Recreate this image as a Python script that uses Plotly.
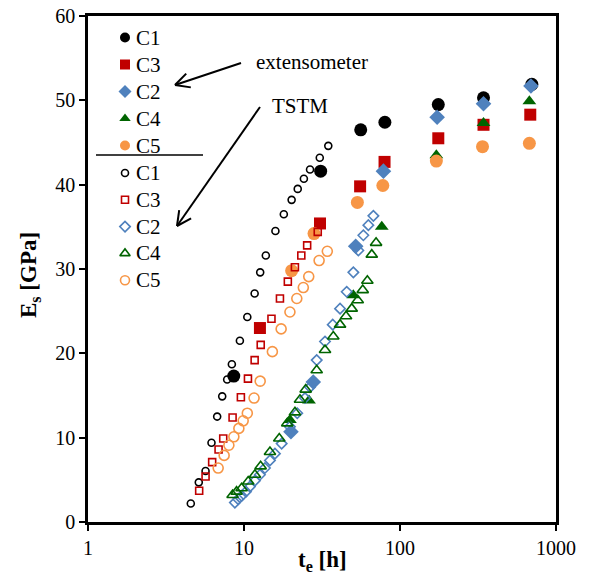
import math
import plotly.graph_objects as go

# ---------------- data ----------------
# Extensometer (filled markers)
ext_C1_t = [8.6, 31, 56, 80, 176, 343, 700]
ext_C1_E = [17.3, 41.6, 46.5, 47.4, 49.5, 50.3, 51.9]
ext_C3_t = [12.65, 30.7, 55.5, 79.6, 176, 343, 684]
ext_C3_E = [23.0, 35.4, 39.8, 42.7, 45.5, 47.1, 48.3]
ext_C2_t = [20.0, 27.8, 52.0, 78.3, 173, 343, 691]
ext_C2_E = [10.7, 16.6, 32.7, 41.6, 48.0, 49.6, 51.7]
ext_C4_t = [19.7, 26.1, 50.2, 76.4, 171, 343, 675]
ext_C4_E = [12.1, 14.4, 26.9, 35.0, 43.5, 47.3, 49.9]
ext_C5_t = [20.2, 28.1, 53.3, 77.6, 171, 338, 675]
ext_C5_E = [29.8, 34.2, 37.9, 39.9, 42.8, 44.5, 44.9]

# TSTM (open markers)
tstm_C1_t = [4.56, 5.13, 5.67, 6.19, 6.73, 7.25, 7.80, 8.36, 9.41, 10.5, 11.7, 12.7,
             13.8, 15.9, 18.0, 20.2, 22.1, 24.2, 26.5, 30.6, 34.7]
tstm_C1_E = [2.2, 4.7, 6.05, 9.4, 12.5, 14.9, 16.9, 18.7, 21.5, 24.3, 27.1, 29.6,
             31.6, 34.5, 36.5, 38.2, 39.5, 40.7, 41.8, 43.2, 44.6]
tstm_C3_t = [5.16, 5.67, 6.25, 6.87, 7.36, 8.45, 9.55, 10.6, 11.7, 12.8, 15.0, 17.0,
             19.1, 21.2, 23.3, 25.4, 29.7]
tstm_C3_E = [3.7, 5.4, 7.1, 8.6, 9.9, 12.4, 14.8, 17.0, 19.2, 21.0, 24.1, 26.5,
             28.5, 30.2, 31.6, 32.8, 34.4]
tstm_C2_t = [8.74, 9.18, 9.65, 10.29, 10.91, 11.75, 12.65, 13.62, 14.67, 15.79, 17.43,
             19.70, 21.95, 24.60, 26.49, 29.24, 33.06, 37.04, 41.27, 45.55, 50.23,
             54.08, 58.23, 62.69, 67.50]
tstm_C2_E = [2.3, 2.7, 3.1, 3.6, 4.2, 4.9, 5.6, 6.4, 7.3, 8.1, 9.3, 11.3, 12.9, 14.7,
             16.0, 19.2, 21.4, 23.4, 25.3, 27.3, 29.6, 32.2, 34.0, 35.2, 36.3]
tstm_C4_t = [8.45, 8.96, 9.65, 10.64, 11.75, 12.78, 14.67, 16.83, 18.94, 21.22, 22.85,
             24.86, 29.24, 33.06, 37.37, 41.27, 45.09, 49.06, 53.60, 57.70, 61.77,
             65.92, 70.25]
tstm_C4_E = [3.2, 3.6, 4.0, 4.8, 5.6, 6.6, 8.3, 9.9, 11.7, 13.0, 14.5, 15.7, 18.0,
             20.4, 22.0, 23.4, 24.4, 25.3, 26.3, 27.5, 28.6, 31.7, 33.1]
tstm_C5_t = [6.83, 7.46, 8.0, 8.61, 9.27, 9.88, 10.5, 11.6, 12.7, 15.2, 17.3, 19.7,
             21.8, 24.0, 26.0, 30.3, 34.2]
tstm_C5_E = [6.4, 7.9, 9.1, 10.1, 11.1, 12.0, 12.9, 14.7, 16.7, 20.2, 22.9, 24.9,
             26.5, 27.8, 29.1, 31.0, 32.1]

series_names = ["C1", "C3", "C2", "C4", "C5"]
x_tick_vals = [1, 10, 100, 1000]
x_tick_text = ["1", "10", "100", "1000"]
y_tick_vals = [0, 10, 20, 30, 40, 50, 60]

# ---------------- styles ----------------
colors = {"C1": "#000000", "C3": "#C00000", "C2": "#4F81BD", "C4": "#006400", "C5": "#F79646"}
filled_sym = {"C1": "circle", "C3": "square", "C2": "diamond", "C4": "triangle-up", "C5": "circle"}
filled_size = {"C1": 13, "C3": 12, "C2": 12, "C4": 12, "C5": 13}
open_sym = {"C1": "circle-open", "C3": "square-open", "C2": "diamond-open",
            "C4": "triangle-up-open", "C5": "circle-open"}
open_size = {"C1": 7, "C3": 7, "C2": 8, "C4": 10, "C5": 10}
leg_f_size = {"C1": 10, "C3": 10, "C2": 10, "C4": 10, "C5": 10}
leg_o_size = {"C1": 7, "C3": 7, "C2": 8, "C4": 9, "C5": 9}

ext = {"C1": (ext_C1_t, ext_C1_E), "C3": (ext_C3_t, ext_C3_E), "C2": (ext_C2_t, ext_C2_E),
       "C4": (ext_C4_t, ext_C4_E), "C5": (ext_C5_t, ext_C5_E)}
tstm = {"C1": (tstm_C1_t, tstm_C1_E), "C3": (tstm_C3_t, tstm_C3_E), "C2": (tstm_C2_t, tstm_C2_E),
        "C4": (tstm_C4_t, tstm_C4_E), "C5": (tstm_C5_t, tstm_C5_E)}

FONT = "'Liberation Serif', 'Times New Roman', serif"
W, H = 590, 575
L, R, T, B = 88, 34, 16, 53
PW, PH = W - L - R, H - T - B


def px_to_paper(px, py):
    return (px - L) / PW, (H - B - py) / PH


fig = go.Figure()
for n in series_names:
    t, e = ext[n]
    fig.add_trace(go.Scatter(x=t, y=e, mode="markers", showlegend=False,
                             marker=dict(symbol=filled_sym[n], size=filled_size[n], color=colors[n],
                                         line=dict(width=0))))
for n in series_names:
    t, e = tstm[n]
    fig.add_trace(go.Scatter(x=t, y=e, mode="markers", showlegend=False,
                             marker=dict(symbol=open_sym[n], size=open_size[n], color=colors[n],
                                         line=dict(width=1.6, color=colors[n]))))

# ---------------- manual legend on a pixel overlay axis ----------------
leg_x = 125
row0 = 37.5
row_step = 27.0
sep_y = 155
rows_f = [row0 + i * row_step for i in range(5)]
rows_o = [173 + i * 26.8 for i in range(5)]
for i, n in enumerate(series_names):
    fig.add_trace(go.Scatter(x=[leg_x], y=[rows_f[i]], xaxis="x2", yaxis="y2", mode="markers",
                             showlegend=False, hoverinfo="skip",
                             marker=dict(symbol=filled_sym[n], size=leg_f_size[n], color=colors[n],
                                         line=dict(width=0))))
    fig.add_trace(go.Scatter(x=[leg_x], y=[rows_o[i]], xaxis="x2", yaxis="y2", mode="markers",
                             showlegend=False, hoverinfo="skip",
                             marker=dict(symbol=open_sym[n], size=leg_o_size[n], color=colors[n],
                                         line=dict(width=1.6, color=colors[n]))))
    for yy in (rows_f[i], rows_o[i]):
        fig.add_annotation(x=134, y=yy, xref="x2", yref="y2", text=n, showarrow=False,
                           xanchor="left", yanchor="middle",
                           font=dict(family=FONT, size=21, color="black"))

shapes = [dict(type="line", xref="x2", yref="y2", x0=96, x1=203, y0=sep_y, y1=sep_y,
               line=dict(color="black", width=1.5))]


def arrow(tail, tip, head=16, ang=27):
    dx, dy = tip[0] - tail[0], tip[1] - tail[1]
    a = math.atan2(dy, dx)
    out = [dict(type="line", xref="x2", yref="y2", x0=tail[0], y0=tail[1], x1=tip[0], y1=tip[1],
                line=dict(color="black", width=2))]
    for s in (1, -1):
        b = a + math.pi + s * math.radians(ang)
        out.append(dict(type="line", xref="x2", yref="y2", x0=tip[0], y0=tip[1],
                        x1=tip[0] + head * math.cos(b), y1=tip[1] + head * math.sin(b),
                        line=dict(color="black", width=2)))
    return out


shapes += arrow((241, 63), (175, 85))
shapes += arrow((260, 107), (177, 226))

fig.add_annotation(x=254, y=62, xref="x2", yref="y2", text="extensometer", showarrow=False,
                   xanchor="left", yanchor="middle", font=dict(family=FONT, size=21, color="black"))
fig.add_annotation(x=270, y=106, xref="x2", yref="y2", text="TSTM", showarrow=False,
                   xanchor="left", yanchor="middle", font=dict(family=FONT, size=21, color="black"))

# axis titles as annotations in paper coordinates (precise placement)
xt_x, xt_y = px_to_paper(322, 561)
yt_x, yt_y = px_to_paper(30, 275)
fig.add_annotation(x=xt_x, y=xt_y, xref="paper", yref="paper", text="<b>t<sub>e</sub> [h]</b>",
                   showarrow=False, xanchor="center", yanchor="middle",
                   font=dict(family=FONT, size=23, color="black"))
fig.add_annotation(x=yt_x, y=yt_y, xref="paper", yref="paper", text="<b>E<sub>s</sub> [GPa]</b>",
                   showarrow=False, xanchor="center", yanchor="middle", textangle=-90,
                   font=dict(family=FONT, size=23, color="black"))

fig.update_layout(
    width=W, height=H, margin=dict(l=L, r=R, t=T, b=B, pad=0, autoexpand=False),
    plot_bgcolor="white", paper_bgcolor="white",
    font=dict(family=FONT, size=20, color="black"),
    shapes=shapes,
    xaxis=dict(type="log", range=[0, 3], tickvals=x_tick_vals, ticktext=x_tick_text,
               ticks="outside", ticklen=6, tickwidth=1.5, tickcolor="black",
               showline=True, linecolor="black", linewidth=2.5, mirror=True,
               showgrid=False, zeroline=False, automargin=False,
               tickfont=dict(family=FONT, size=20, color="black")),
    yaxis=dict(range=[0, 60], tickvals=y_tick_vals, ticks="outside", ticklen=6, tickwidth=1.5,
               tickcolor="black", showline=True, linecolor="black", linewidth=2.5, mirror=True,
               showgrid=False, zeroline=False, automargin=False,
               tickfont=dict(family=FONT, size=20, color="black")),
    xaxis2=dict(overlaying="x", range=[L, W - R], visible=False, fixedrange=True),
    yaxis2=dict(overlaying="y", range=[H - B, T], visible=False, fixedrange=True),
)

fig.write_html("out.html")
